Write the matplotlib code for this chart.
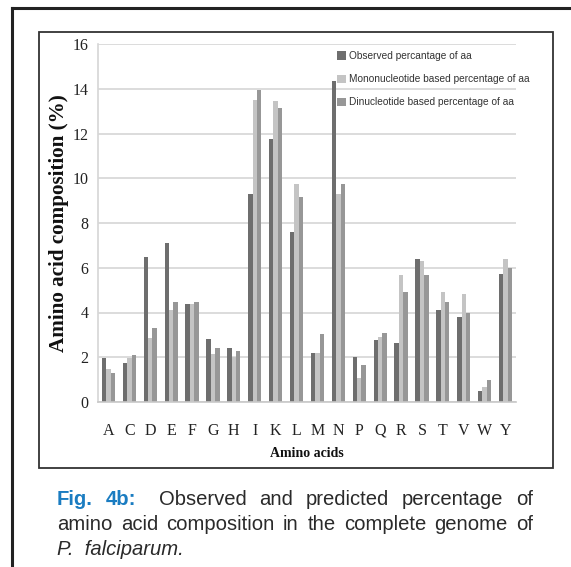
import matplotlib
matplotlib.use("Agg")
import matplotlib.pyplot as plt
import numpy as np
from matplotlib.lines import Line2D
from matplotlib.patches import Rectangle

# --- data ---
amino_acids = ["A", "C", "D", "E", "F", "G", "H", "I", "K", "L",
               "M", "N", "P", "Q", "R", "S", "T", "V", "W", "Y"]
observed = [1.96, 1.75, 6.48, 7.12, 4.37, 2.82, 2.40, 9.28, 11.75, 7.61,
            2.20, 14.36, 2.02, 2.76, 2.65, 6.37, 4.09, 3.82, 0.50, 5.70]
mononuc = [1.48, 1.96, 2.85, 4.13, 4.37, 2.16, 1.99, 13.50, 13.44, 9.75,
           2.20, 9.28, 1.07, 2.90, 5.67, 6.28, 4.90, 4.84, 0.68, 6.37]
dinuc = [1.30, 2.10, 3.31, 4.45, 4.49, 2.40, 2.28, 13.95, 13.15, 9.17,
         3.03, 9.75, 1.64, 3.10, 4.92, 5.67, 4.47, 4.00, 0.98, 5.99]
series_names = ["Observed percantage of aa",
                "Mononucleotide based percentage of aa",
                "Dinucleotide based percentage of aa"]
colors = ["#6e6e6e", "#c4c4c4", "#979797"]

W, H = 571, 567
fig = plt.figure(figsize=(W / 100, H / 100), dpi=100)
fig.patch.set_facecolor("white")


def fx(px):
    return px / W


def fy(py):
    return 1 - py / H


# axes area in pixels: x 98..516, y 44..402
ax = fig.add_axes([fx(98), fy(402), fx(516) - fx(98), fy(44) - fy(402)])

x = np.arange(len(amino_acids))
bw = 0.21
for i, (vals, c, name) in enumerate(zip([observed, mononuc, dinuc], colors, series_names)):
    ax.bar(x + (i - 1) * bw, vals, width=bw, color=c, label=name, zorder=2)

ax.set_xlim(-0.5, len(amino_acids) - 0.5)
ax.set_ylim(0, 16)
ax.set_yticks(range(0, 17, 2))
ax.set_xticks(x)
ax.set_xticklabels(amino_acids)
ax.yaxis.grid(True, color="#d6d6d6", linewidth=1.2, zorder=0)
ax.set_axisbelow(True)
for s in ["top", "right"]:
    ax.spines[s].set_visible(False)
ax.spines["left"].set_color("#d6d6d6")
ax.spines["bottom"].set_color("#c8c8c8")
ax.spines["left"].set_linewidth(1.2)
ax.spines["bottom"].set_linewidth(1.2)
ax.tick_params(length=0)
ax.tick_params(axis="x", pad=15)
ax.tick_params(axis="y", pad=7)
for lab in ax.get_xticklabels() + ax.get_yticklabels():
    lab.set_fontfamily("Liberation Serif")
    lab.set_fontsize(11.5)
    lab.set_color("#222222")

ax.set_ylabel("Amino acid composition (%)", family="Liberation Serif",
              fontweight="bold", fontsize=15.2, color="#111111", labelpad=2)
ax.set_xlabel("Amino acids", family="Liberation Serif", fontweight="bold",
              fontsize=10, color="#111111", labelpad=6)

leg = ax.legend(loc="upper left", bbox_to_anchor=(fx(337), fy(51)),
                bbox_transform=fig.transFigure, frameon=False,
                handlelength=0.85, handleheight=0.85, handletextpad=0.35,
                labelspacing=1.3, borderaxespad=0, borderpad=0,
                prop={"family": "Liberation Sans", "size": 7.3})
for t in leg.get_texts():
    t.set_color("#333333")

# --- frames ---
fig.add_artist(Line2D([fx(12), 1], [fy(7.5), fy(7.5)], color="#222222", lw=2.2,
                      transform=fig.transFigure))
fig.add_artist(Line2D([fx(12), fx(12)], [fy(7.5), 0], color="#222222", lw=2.2,
                      transform=fig.transFigure))
fig.add_artist(Rectangle((fx(39), fy(468)), fx(553) - fx(39), fy(32) - fy(468),
                         fill=False, edgecolor="#333333", lw=1.3,
                         transform=fig.transFigure))

# --- caption, justified ---
renderer = fig.canvas.get_renderer()
cap_blue = "#1a7cc1"
cap_txt = "#2a2a2a"
cap_font = "Liberation Sans"
cap_size = 14.6
bold_blue = dict(color=cap_blue, fontweight="bold")
plain = dict(color=cap_txt)
line1 = [("Fig.", bold_blue, 1.0), ("4b:", bold_blue, 1.8)] + \
        [(w, plain, 1.0) for w in "Observed and predicted percentage of".split()]
line2 = [(w, plain, 1.0) for w in "amino acid composition in the complete genome of".split()]


def justify(words, x0, x1, y):
    texts = []
    widths = []
    for w, props, _ in words:
        t = fig.text(fx(x0), fy(y), w, family=cap_font, fontsize=cap_size,
                     va="baseline", ha="left", **props)
        texts.append(t)
        widths.append(t.get_window_extent(renderer).width)
    weights = [g for _, _, g in words[:-1]]
    gap = (x1 - x0 - sum(widths)) / sum(weights)
    pos = x0
    for i, t in enumerate(texts):
        t.set_x(fx(pos))
        if i < len(weights):
            pos += widths[i] + gap * weights[i]


justify(line1, 57, 533, 505)
justify(line2, 57, 533, 530)
fig.text(fx(57), fy(555), "P.  falciparum.", family=cap_font, fontsize=cap_size,
         style="italic", color=cap_txt, va="baseline", ha="left")

fig.savefig("out.png", dpi=100)
